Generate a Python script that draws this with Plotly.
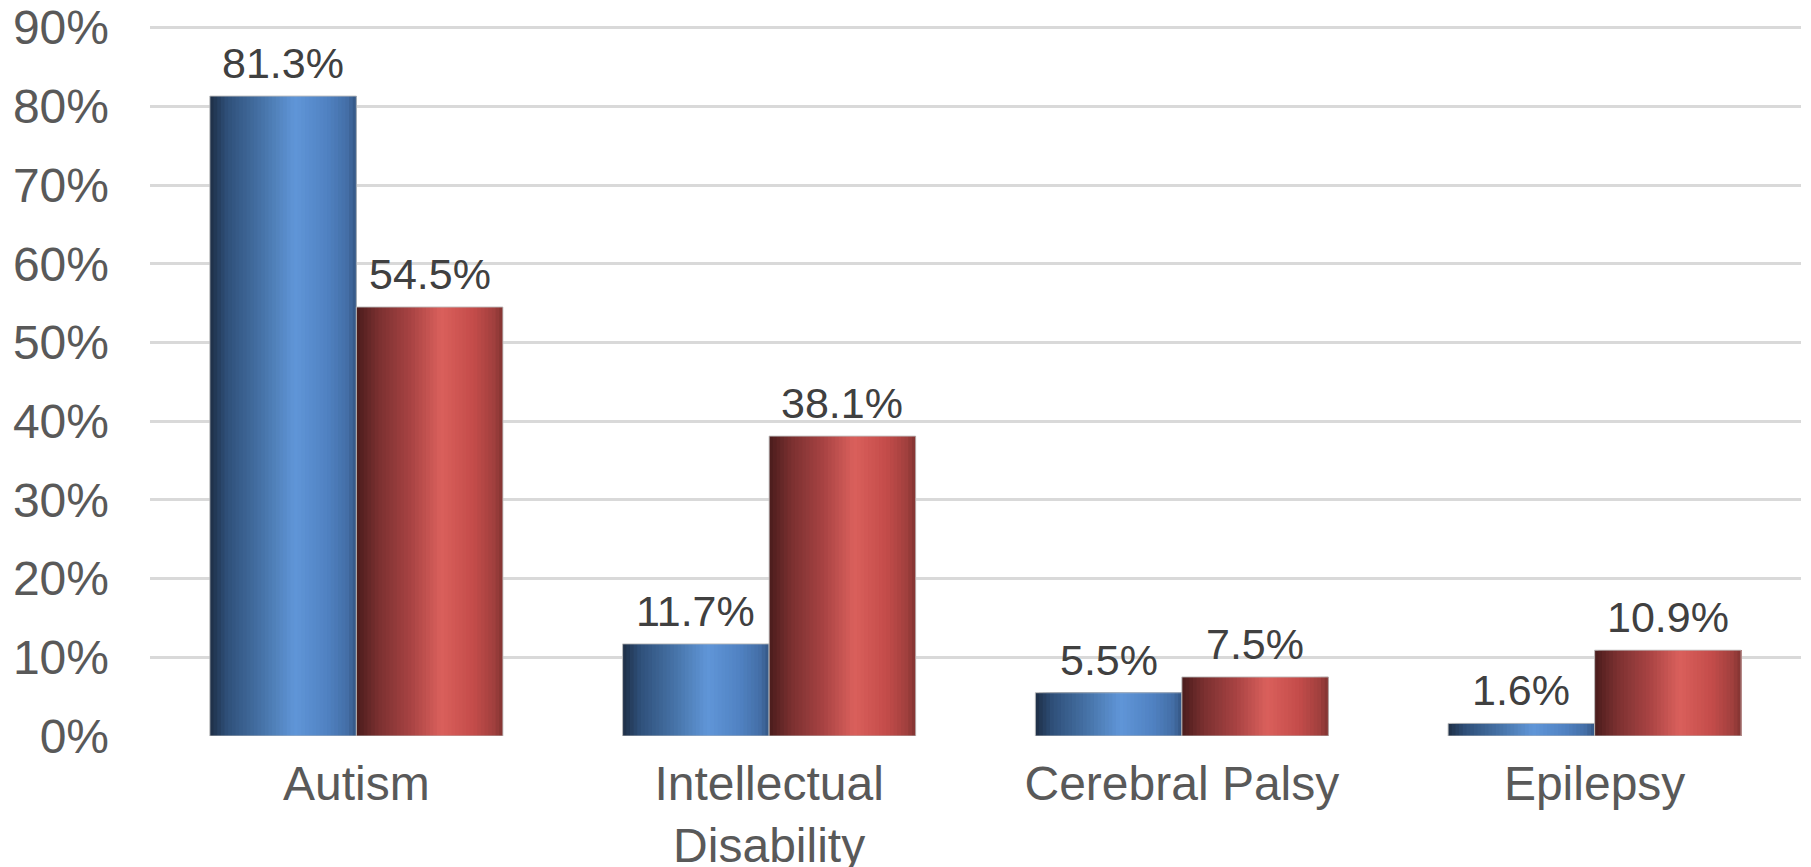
import plotly.graph_objects as go

categories = ["Autism", "Intellectual<br>Disability", "Cerebral Palsy", "Epilepsy"]
series_blue = [81.3, 11.7, 5.5, 1.6]
series_red = [54.5, 38.1, 7.5, 10.9]
y_ticks = [0, 10, 20, 30, 40, 50, 60, 70, 80, 90]
y_tick_labels = [f"{v}%" for v in y_ticks]

blue_stops = [(0.0, (30, 46, 70)), (0.12, (47, 80, 122)), (0.35, (70, 114, 166)),
              (0.58, (96, 150, 216)), (0.8, (80, 130, 194)), (0.94, (68, 110, 166)),
              (1.0, (52, 86, 132))]
red_stops = [(0.0, (74, 28, 28)), (0.15, (122, 48, 48)), (0.38, (170, 68, 68)),
             (0.58, (218, 96, 92)), (0.8, (196, 76, 74)), (0.94, (160, 64, 62)),
             (1.0, (130, 52, 50))]


def interp(stops, t):
    for (t0, c0), (t1, c1) in zip(stops[:-1], stops[1:]):
        if t0 <= t <= t1:
            f = (t - t0) / (t1 - t0) if t1 > t0 else 0
            c = [round(a + (b - a) * f) for a, b in zip(c0, c1)]
            return f"rgb({c[0]},{c[1]},{c[2]})"
    c = stops[-1][1]
    return f"rgb({c[0]},{c[1]},{c[2]})"


BAR_W = 0.355
N = 40
xs = list(range(len(categories)))
FONT = "Liberation Sans, Arial, Helvetica, sans-serif"
fig = go.Figure()

for vals, stops, start in [(series_blue, blue_stops, -BAR_W), (series_red, red_stops, 0.0)]:
    for i in range(N):
        t = (i + 0.5) / N
        fig.add_trace(go.Bar(
            x=xs, y=vals,
            width=BAR_W - i * BAR_W / N,
            offset=start + i * BAR_W / N,
            marker=dict(color=interp(stops, t), line=dict(width=0)),
            showlegend=False, hoverinfo="skip",
        ))
    fig.add_trace(go.Bar(
        x=xs, y=vals, width=BAR_W, offset=start,
        marker=dict(color="rgba(0,0,0,0)", line=dict(width=1, color="rgba(190,190,190,0.9)")),
        showlegend=False,
    ))
    for xi, v in zip(xs, vals):
        fig.add_annotation(
            x=xi + start + BAR_W / 2, y=v, text=f"{v:.1f}%",
            showarrow=False, yanchor="bottom", yshift=7,
            font=dict(size=43, color="#404040", family=FONT),
        )

# page body has an 8px default margin, so the figure is sized to fit the window
fig.update_layout(
    barmode="overlay",
    width=1803, height=859,
    margin=dict(l=142, r=10, t=18, b=131),
    paper_bgcolor="white", plot_bgcolor="white",
    font=dict(family=FONT, color="#595959"),
)
fig.update_xaxes(
    range=[-0.5, 3.5], tickmode="array", tickvals=xs, ticktext=categories,
    showgrid=False, zeroline=False, showline=False, automargin=False,
    tickfont=dict(size=48, color="#595959"), ticklabelstandoff=15,
    ticklabeloverflow="allow",
)
fig.update_yaxes(
    range=[0, 90.2], tickmode="array", tickvals=y_ticks, ticktext=y_tick_labels,
    showgrid=True, gridcolor="#d9d9d9", gridwidth=2.5, zeroline=False, automargin=False,
    tickfont=dict(size=48, color="#595959"), ticklabelstandoff=40,
    ticklabeloverflow="allow",
)

fig.write_html("out.html")
